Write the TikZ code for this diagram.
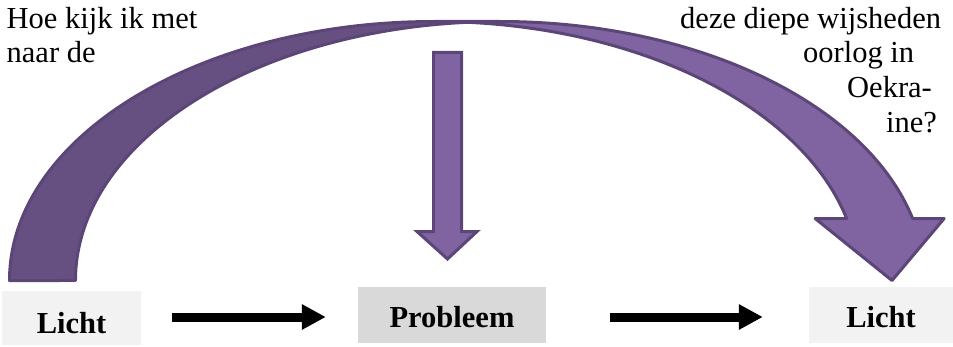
\documentclass[tikz,border=0pt]{standalone}
\usepackage{fontspec}
\setmainfont{Liberation Serif}
\usetikzlibrary{arrows.meta}
\definecolor{plight}{HTML}{8064A2}
\definecolor{pdark}{HTML}{665082}
\definecolor{pline}{HTML}{5C4677}
\definecolor{boxlight}{HTML}{F2F2F2}
\definecolor{boxmid}{HTML}{D9D9D9}
\begin{document}
\begin{tikzpicture}[x=1pt,y=1pt,
  txt/.style={inner sep=0pt, anchor=base west, font=\fontsize{30.5}{35}\selectfont},
  box/.style={inner sep=0pt, anchor=base, font=\fontsize{30.5}{35}\selectfont\bfseries},
  barrow/.style={line width=9pt, -{Triangle[length=24pt,width=24pt]}},
  ell/.style={x radius=424.75pt, y radius=259pt},
  poutline/.style={draw=pline, line width=3pt}]
\useasboundingbox (0,0) rectangle (953,346);

% curved arrow: light (front) part
\fill[plight] (892,65.5) -- (815.15,127.5) -- (846.65,127.5)
  arc[ell, start angle=13.85, end angle=90]
  -- (500.25,324.5)
  arc[ell, start angle=90, end angle=13.85]
  -- (944.15,127.5) -- cycle;
% curved arrow: dark (back) part
\fill[pdark] (467.22,323.7)
  arc[ell, start angle=94.46, end angle=180]
  -- (9.5,65.5)
  arc[ell, start angle=180, end angle=85.54] -- cycle;
% curved arrow: outline
\draw[poutline, line join=round] (467.22,323.7)
  arc[ell, start angle=94.46, end angle=180]
  -- (9.5,65.5)
  arc[ell, start angle=180, end angle=90]
  -- (500.25,324.5)
  arc[ell, start angle=90, end angle=13.85]
  -- (944.15,127.5) -- (892,65.5) -- (815.15,127.5) -- (846.65,127.5)
  arc[ell, start angle=13.85, end angle=90];

% straight down arrow
\draw[poutline, fill=plight, line join=miter]
  (433.5,293.5) -- (461.5,293.5) -- (461.5,114.5) -- (477,114.5)
  -- (447.5,87) -- (417,114.5) -- (433.5,114.5) -- cycle;

% texts
\node[txt] (t1) at (6.5,317) {Hoe kijk ik met};
\node[txt] (t2) at (6.5,283) {naar de};
\node[txt] (t3) at (680,317) {deze diepe wijsheden};
\node[txt] (t4) at (803,283) {oorlog in};
\node[txt] (t5) at (847,248) {Oekra-};
\node[txt] (t6) at (886,213) {ine?};

% boxes
\node[box, fill=boxlight, minimum width=139pt, text height=42pt, text depth=12pt] (l1) at (71.5,13) {Licht};
\node[box, fill=boxmid, minimum width=188pt, text height=40pt, text depth=16pt] (prob) at (452,19) {Probleem};
\node[box, fill=boxlight, minimum width=144pt, text height=40pt, text depth=16pt] (l2) at (881,19) {Licht};

% black connectors
\draw[barrow, shorten <=31pt, shorten >=32pt] ([yshift=1pt]l1.east) -- ([yshift=1pt]l1.east -| prob.west);
\draw[barrow, shorten <=64pt, shorten >=46pt] ([yshift=-2pt]prob.east) -- ([yshift=-2pt]prob.east -| l2.west);
\end{tikzpicture}
\end{document}
